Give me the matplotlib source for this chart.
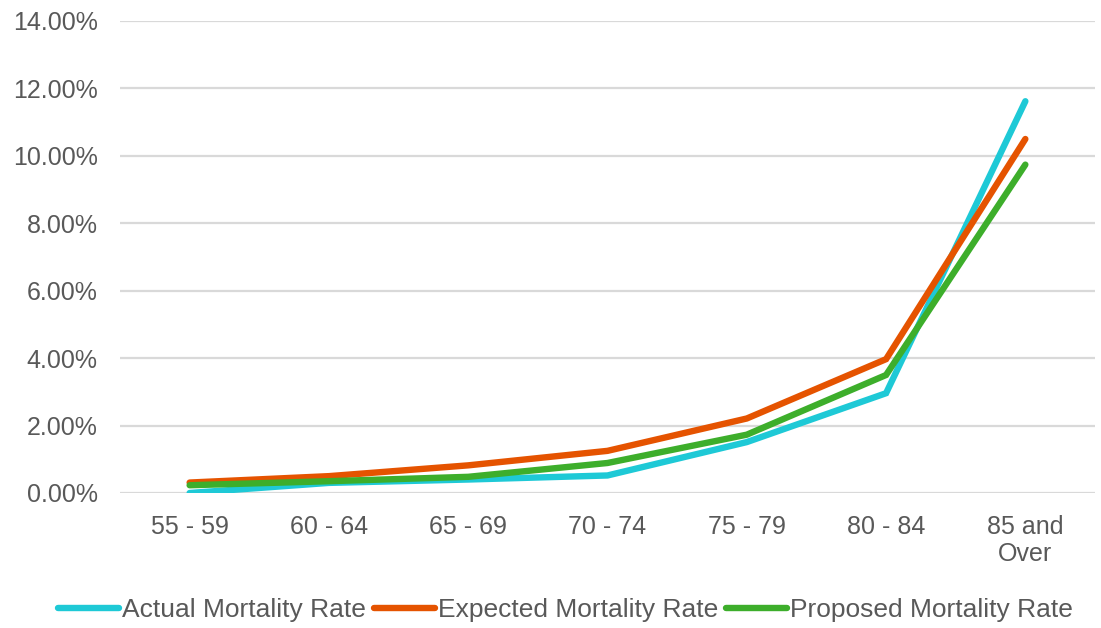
import numpy as np
import matplotlib.pyplot as plt
from matplotlib.ticker import FuncFormatter

plt.rcParams['font.family'] = ['Liberation Sans', 'DejaVu Sans']

# Age bands and mortality rates (%)
age_bands = ['55 - 59', '60 - 64', '65 - 69', '70 - 74', '75 - 79', '80 - 84', '85 and\nOver']
actual = [0.0, 0.30, 0.40, 0.52, 1.51, 2.96, 11.62]
expected = [0.31, 0.50, 0.82, 1.25, 2.21, 3.97, 10.50]
proposed = [0.23, 0.35, 0.48, 0.89, 1.73, 3.50, 9.74]

series = [
    ('Actual Mortality Rate', actual, '#1ec9d6'),
    ('Expected Mortality Rate', expected, '#e55300'),
    ('Proposed Mortality Rate', proposed, '#3dae2b'),
]

fig = plt.figure(figsize=(11.01, 6.28), dpi=100)
ax = fig.add_axes([120 / 1101, 1 - 493 / 628, 975 / 1101, 472 / 628])

x = np.arange(len(age_bands))
for name, vals, color in series:
    ax.plot(x, vals, color=color, linewidth=4.6, label=name,
            solid_capstyle='round', solid_joinstyle='miter')

ax.set_xlim(-0.5, len(age_bands) - 0.5)
ax.set_ylim(0, 14)
ax.set_yticks(np.arange(0, 14.01, 2))
ax.yaxis.set_major_formatter(FuncFormatter(lambda v, p: f'{v:.2f}%'))
ax.set_xticks(x)
ax.set_xticklabels(age_bands, linespacing=1.15)

ax.grid(axis='y', color='#d9d9d9', linewidth=1.6)
ax.set_axisbelow(True)
for s in ax.spines.values():
    s.set_visible(False)
ax.tick_params(length=0, labelsize=18, colors='#595959', pad=16)

ax.legend(loc='center', bbox_to_anchor=(0.457, -0.248), ncol=3, frameon=False,
          fontsize=19, labelcolor='#595959', handlelength=2.3, handletextpad=0.12,
          columnspacing=0.3, borderpad=0)

fig.savefig('out.png', dpi=100)
